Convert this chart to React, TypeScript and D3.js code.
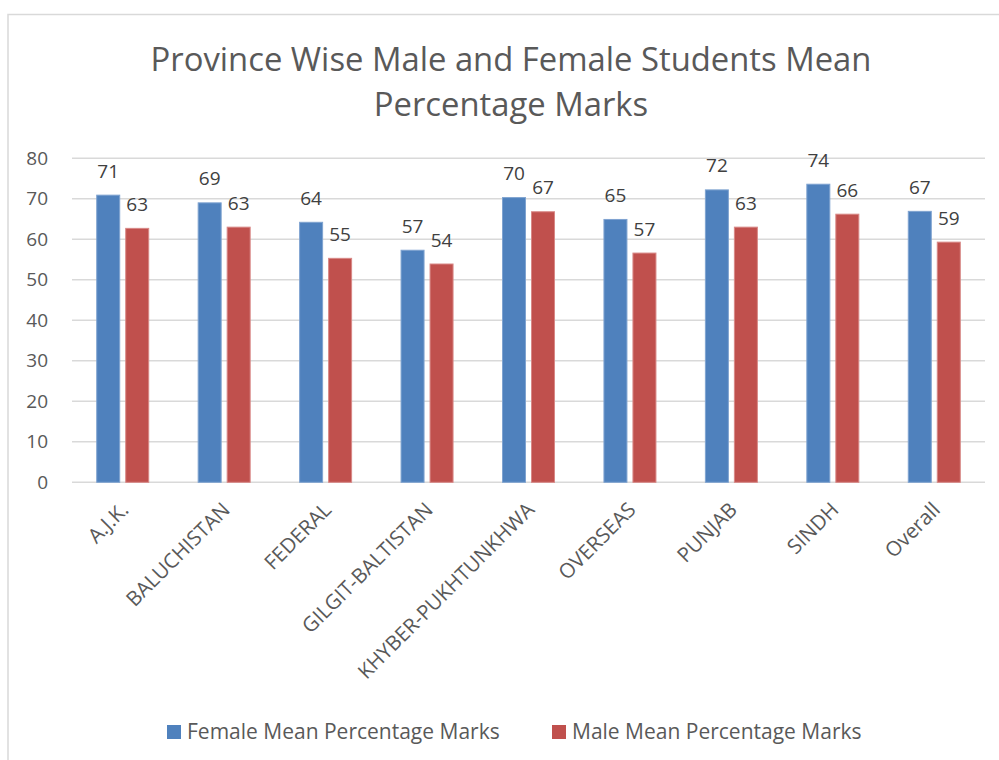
import React from "react";
import * as d3 from "d3";

const categories = ["A.J.K.", "BALUCHISTAN", "FEDERAL", "GILGIT-BALTISTAN", "KHYBER-PUKHTUNKHWA", "OVERSEAS", "PUNJAB", "SINDH", "Overall"];
const femaleValues = [70.9, 69.0, 64.2, 57.3, 70.3, 64.9, 72.2, 73.6, 66.9];
const maleValues = [62.7, 63.0, 55.3, 53.9, 66.8, 56.6, 63.0, 66.2, 59.3];
const seriesNames = ["Female Mean Percentage Marks", "Male Mean Percentage Marks"];
const seriesColors = ["#4F81BD", "#C0504D"];
const yTicks = [0, 10, 20, 30, 40, 50, 60, 70, 80];
const titleLines = ["Province Wise Male and Female Students Mean", "Percentage Marks"];

const W = 999;
const H = 760;
const FONT = "'Open Sans', 'Noto Sans', sans-serif";

export default function App() {
  const plotLeft = 72;
  const plotRight = 985;
  const plotTop = 158.3;
  const plotBottom = 482.3;

  const x0 = d3.scaleBand<string>().domain(categories).range([plotLeft, plotRight]).paddingInner(0).paddingOuter(0);
  const y = d3.scaleLinear().domain([0, 80]).range([plotBottom, plotTop]);
  const x1 = d3.scaleBand<string>().domain(seriesNames).range([0, 52]).paddingInner(0.207).paddingOuter(0);
  const groupOffset = (x0.bandwidth() - 52) / 2;

  const series = [femaleValues, maleValues];

  return (
    <svg width={W} height={H} style={{ position: "absolute", left: 0, top: 0, background: "#fff" }} fontFamily={FONT}>
      <rect x={8} y={14.5} width={1100} height={900} fill="#fff" stroke="#D9D9D9" strokeWidth={1.5} />
      {titleLines.map((t, i) => (
        <text key={t} x={511} y={71 + i * 45} textAnchor="middle" fontSize={32.8} fill="#595959">
          {t}
        </text>
      ))}
      {yTicks.map((t) => (
        <g key={t}>
          <line x1={plotLeft} x2={plotRight} y1={y(t)} y2={y(t)} stroke="#D9D9D9" strokeWidth={1.5} />
          <text x={48} y={y(t)} dy="0.35em" textAnchor="end" fontSize={19} fill="#595959">
            {t}
          </text>
        </g>
      ))}
      {categories.map((c, ci) => (
        <g key={c} transform={`translate(${x0(c)! + groupOffset},0)`}>
          {seriesNames.map((s, si) => {
            const v = series[si][ci];
            const bx = x1(s)!;
            const bw = x1.bandwidth();
            return (
              <g key={s}>
                <rect x={bx} y={y(v)} width={bw} height={y(0) - y(v)} fill={seriesColors[si]} stroke={si === 0 ? "#7FA3D0" : "#D88886"} strokeWidth={1} />
                <text x={bx + bw / 2} y={y(v) - 17.5} textAnchor="middle" fontSize={19} fill="#404040">
                  {Math.round(v)}
                </text>
              </g>
            );
          })}
        </g>
      ))}
      {categories.map((c) => {
        const cx = x0(c)! + x0.bandwidth() / 2 + 2;
        return (
          <text key={c} transform={`translate(${cx},506) rotate(-45)`} textAnchor="end" dy="0.35em" fontSize={20.5} fill="#595959">
            {c}
          </text>
        );
      })}
      {seriesNames.map((s, i) => {
        const lx = i === 0 ? 167 : 552;
        return (
          <g key={s}>
            <rect x={lx} y={725} width={14} height={14} fill={seriesColors[i]} />
            <text x={lx + 20} y={732} dy="0.35em" fontSize={21} fill="#595959">
              {s}
            </text>
          </g>
        );
      })}
    </svg>
  );
}
